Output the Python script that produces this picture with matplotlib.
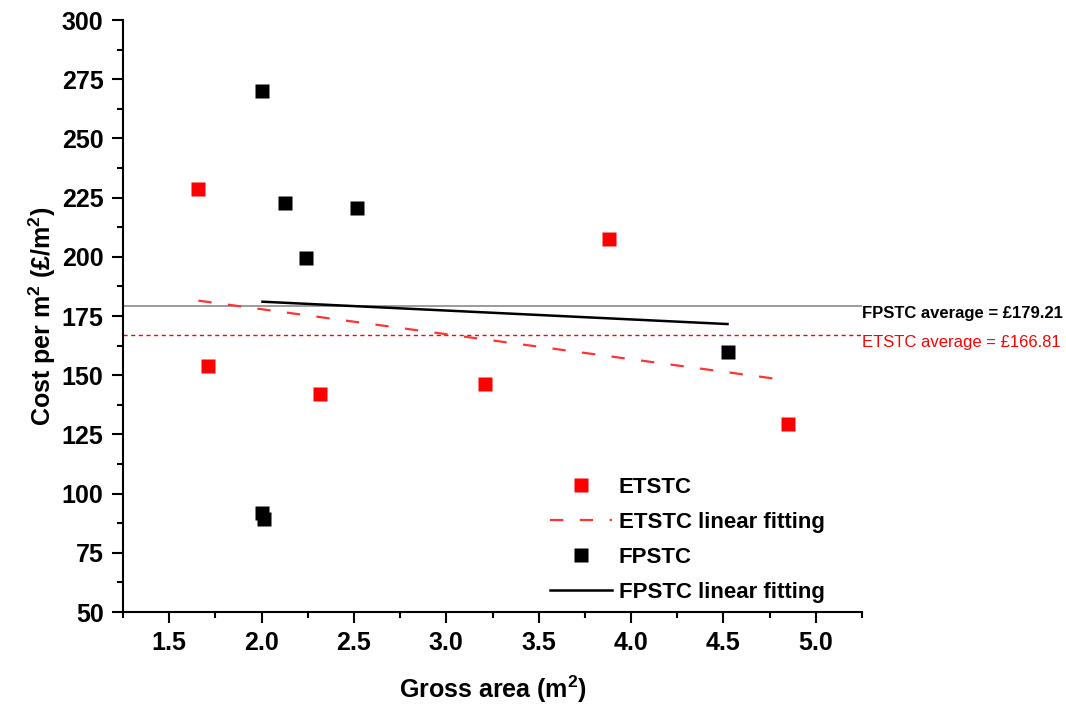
import matplotlib.pyplot as plt
import numpy as np

plt.rcParams['font.family'] = ['Liberation Sans', 'DejaVu Sans']
plt.rcParams['mathtext.fontset'] = 'custom'
plt.rcParams['mathtext.rm'] = 'Liberation Sans'
plt.rcParams['mathtext.bf'] = 'Liberation Sans:bold'

# gross area (m2) and cost per m2 for each collector type
etstc_area = [1.658, 1.712, 2.319, 3.212, 3.883, 4.847]
etstc_cost = [228.8, 153.7, 141.9, 146.1, 207.7, 129.6]
fpstc_area = [2.005, 2.129, 2.243, 2.514, 2.005, 2.015, 4.522]
fpstc_cost = [270.2, 222.9, 199.7, 220.8, 92.0, 89.3, 159.6]

fpstc_avg = 179.21
etstc_avg = 166.81

fig = plt.figure(figsize=(10.66, 7.06), dpi=100)
ax = fig.add_axes([123 / 1066, 94 / 706, 739 / 1066, 592 / 706])

# averages first so the markers sit on top
ax.axhline(fpstc_avg, color='#808080', lw=1.1, zorder=1)
ax.axhline(etstc_avg, color='red', lw=1.0, dashes=(3, 2.5), zorder=1)

ax.plot(etstc_area, etstc_cost, 's', color='red', ms=9.4, mec='none',
        label='ETSTC', zorder=3)

# linear fits over the range of each series
ex = np.array([min(etstc_area), max(etstc_area)])
k, b = np.polyfit(etstc_area, etstc_cost, 1)
ax.plot(ex, k * ex + b, color='#ff3333', lw=1.6, dashes=(6.0, 7.4),
        label='ETSTC linear fitting', zorder=2)

ax.plot(fpstc_area, fpstc_cost, 's', color='black', ms=9.4, mec='none',
        label='FPSTC', zorder=3)

fx = np.array([min(fpstc_area), max(fpstc_area)])
k2, b2 = np.polyfit(fpstc_area, fpstc_cost, 1)
ax.plot(fx, k2 * fx + b2, color='black', lw=1.8,
        label='FPSTC linear fitting', zorder=2)

tr = ax.get_yaxis_transform()
ax.text(1.0, fpstc_avg, 'FPSTC average = £%.2f' % fpstc_avg, transform=tr,
        ha='left', va='top', fontsize=12, fontweight='bold', color='black')
ax.text(1.0, etstc_avg, 'ETSTC average = £%.2f' % etstc_avg, transform=tr,
        ha='left', va='top', fontsize=12, color='red')

ax.set_xlim(1.25, 5.25)
ax.set_ylim(50, 300)
ax.set_xticks(np.arange(1.5, 5.01, 0.5))
ax.set_xticks(np.arange(1.25, 5.26, 0.25), minor=True)
ax.set_yticks(np.arange(50, 301, 25))
ax.set_yticks(np.arange(50, 301, 12.5), minor=True)

for s in ['top', 'right']:
    ax.spines[s].set_visible(False)
for s in ['left', 'bottom']:
    ax.spines[s].set_linewidth(1.5)

ax.tick_params(which='major', length=8, width=1.5, labelsize=18, pad=6)
ax.tick_params(which='minor', length=4, width=1.5)
for lab in ax.get_xticklabels() + ax.get_yticklabels():
    lab.set_fontweight('bold')

ax.set_xlabel(r'Gross area (m$^\mathbf{2}$)', fontsize=18, fontweight='bold', labelpad=13)
ax.set_ylabel(r'Cost per m$^\mathbf{2}$ (£/m$^\mathbf{2}$)', fontsize=18,
              fontweight='bold', labelpad=3)

ax.legend(loc='upper left', bbox_to_anchor=(539 / 1066, 1 - 466 / 706),
          bbox_transform=fig.transFigure, frameon=False, borderpad=0,
          handlelength=2.8, handletextpad=0.3, labelspacing=0.63,
          prop={'size': 16, 'weight': 'bold'})

fig.savefig('out.png', dpi=100)
